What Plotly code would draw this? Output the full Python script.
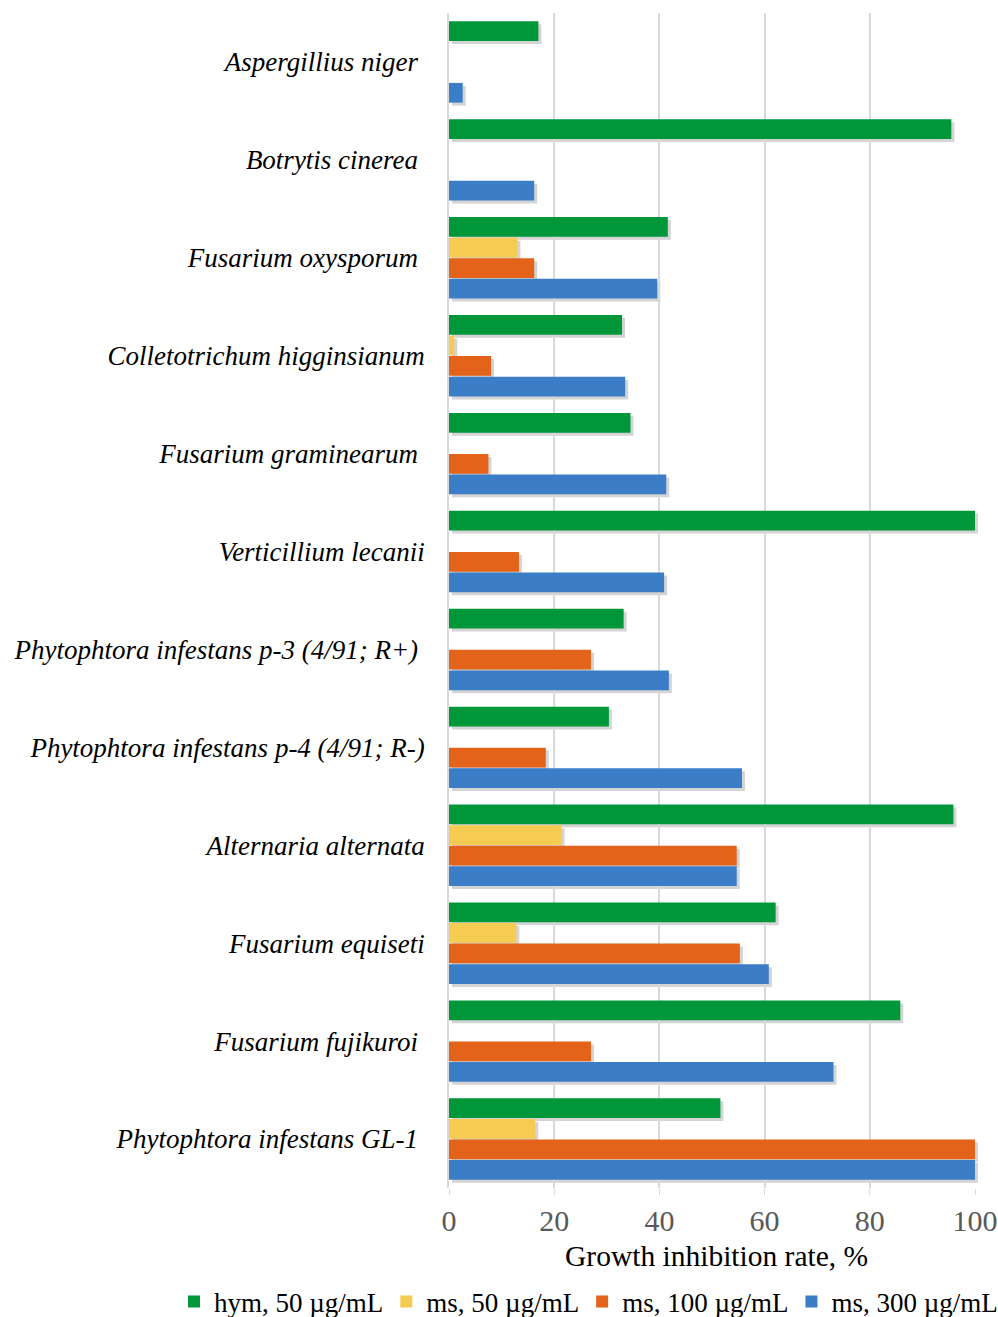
import plotly.graph_objects as go

# Fungal species (top to bottom); trailing nbsp keeps some labels slightly shifted
species = [
    "Aspergillius niger\u00a0",
    "Botrytis cinerea\u00a0",
    "Fusarium oxysporum\u00a0",
    "Colletotrichum higginsianum",
    "Fusarium graminearum\u00a0",
    "Verticillium lecanii",
    "Phytophtora infestans p-3 (4/91; R+)\u00a0",
    "Phytophtora infestans p-4 (4/91; R-)",
    "Alternaria alternata",
    "Fusarium equiseti",
    "Fusarium fujikuroi\u00a0",
    "Phytophtora infestans GL-1\u00a0",
]

# Growth inhibition rate, %
hym_50 = [17.0, 95.5, 41.6, 32.9, 34.5, 100.0, 33.2, 30.4, 95.9, 62.1, 85.8, 51.6]
ms_50 = [0, 0, 13.0, 1.0, 0, 0, 0, 0, 21.4, 12.8, 0, 16.4]
ms_100 = [0, 0, 16.2, 8.0, 7.5, 13.3, 27.0, 18.4, 54.7, 55.3, 27.0, 100.0]
ms_300 = [2.6, 16.2, 39.6, 33.5, 41.3, 40.9, 41.8, 55.7, 54.7, 60.8, 73.1, 100.0]

series = [
    ("hym, 50 µg/mL", hym_50, "#00973b"),
    ("ms, 50 µg/mL", ms_50, "#f6cb52"),
    ("ms, 100 µg/mL", ms_100, "#e3631b"),
    ("ms, 300 µg/mL", ms_300, "#3b7ec7"),
]

x_ticks = [0, 20, 40, 60, 80, 100]
x_title = "Growth inhibition rate, %"

W, H = 998, 1317
left, top = 449, 13
plot_w, plot_h = 526, 1175
shift = 3  # drop-shadow offset in px

tot_w = plot_w + shift
tot_h = plot_h + shift
paper_bottom = top + tot_h


def px_to_paper_x(px):
    return (px - left) / tot_w


def px_to_paper_y(py):
    return (paper_bottom - py) / tot_h


fig = go.Figure()

# soft drop shadows on the lower subplot layer
for name, vals, color in series:
    fig.add_trace(go.Bar(
        y=species, x=vals, orientation="h", name=name,
        marker=dict(color="rgba(60,60,60,0.22)", line=dict(width=0)),
        xaxis="x", yaxis="y", showlegend=False, hoverinfo="skip",
    ))

# main bars
for name, vals, color in series:
    fig.add_trace(go.Bar(
        y=species, x=vals, orientation="h", name=name,
        marker=dict(color=color, line=dict(width=0)),
        xaxis="x2", yaxis="y2",
    ))

serif = "Liberation Serif, Times New Roman, serif"

fig.update_layout(
    width=W, height=H,
    margin=dict(l=left, r=W - left - tot_w, t=top, b=H - paper_bottom,
                autoexpand=False),
    paper_bgcolor="white", plot_bgcolor="rgba(0,0,0,0)",
    barmode="group", bargap=0.16, bargroupgap=0.04,
    font=dict(family=serif, size=27, color="black"),
    xaxis=dict(domain=[shift / tot_w, 1], range=[0, 100], visible=False),
    yaxis=dict(domain=[0, 1 - shift / tot_h], autorange="reversed",
               type="category", visible=False),
    xaxis2=dict(
        domain=[0, plot_w / tot_w], range=[0, 100], anchor="y2",
        automargin=False,
        tickvals=x_ticks, ticks="outside", ticklen=6, tickcolor="#d9d9d9",
        ticklabelstandoff=0,
        showgrid=True, gridcolor="#d9d9d9", gridwidth=1.5,
        zeroline=False, showline=False,
        tickfont=dict(family=serif, size=30, color="#595959"),
    ),
    yaxis2=dict(
        domain=[shift / tot_h, 1], anchor="x2", type="category",
        automargin=False,
        autorange="reversed", ticks="", showgrid=False,
        showline=True, linecolor="#d9d9d9", linewidth=1.5,
        ticklabelstandoff=17,
        tickfont=dict(family=serif, size=27, color="black",
                      style="italic"),
    ),
    legend=dict(
        orientation="h", xref="paper", yref="paper",
        x=px_to_paper_x(176), xanchor="left",
        y=px_to_paper_y(1302), yanchor="middle",
        indentation=-2,
        font=dict(family=serif, size=27, color="black"),
        traceorder="normal", itemclick=False,
    ),
    annotations=[dict(
        text=x_title, xref="paper", yref="paper",
        x=px_to_paper_x(716), y=px_to_paper_y(1256),
        xanchor="center", yanchor="middle", showarrow=False,
        font=dict(family=serif, size=29.5, color="black"),
    )],
)

fig.write_html("out.html")
